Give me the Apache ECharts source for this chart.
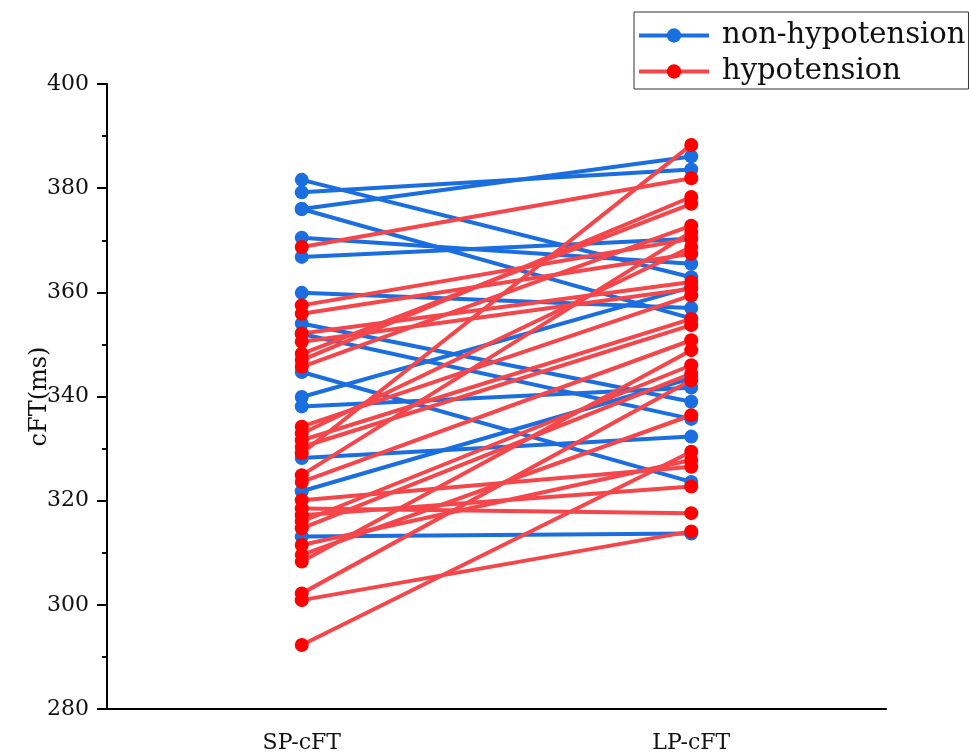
<!DOCTYPE html>
<html>
<head>
<meta charset="utf-8">
<script src="https://cdn.jsdelivr.net/npm/echarts@6/dist/echarts.min.js"></script>
<style>
html, body { margin: 0; padding: 0; background: #fff; }
#chart { width: 969px; height: 756px; }
</style>
</head>
<body>
<div id="chart"></div>
<script>
// 分组：x 轴两个时间点
var categories = ['SP-cFT', 'LP-cFT'];

// 非低血压组 (SP -> LP)，按对读取
var nonHypoSP = [381.6, 379.2, 376.0, 376.0, 370.5, 366.8, 359.9, 354.0, 352.0, 344.7, 339.9, 338.1, 328.2, 321.8, 313.1];
var nonHypoLP = [362.9, 383.6, 386.1, 355.0, 365.5, 370.3, 357.0, 339.0, 335.7, 323.6, 361.0, 341.7, 332.3, 343.5, 313.7];

// 低血压组 (SP -> LP)
var hypoSP = [368.7, 357.5, 355.9, 352.1, 350.5, 348.2, 347.0, 345.7, 334.2, 332.9, 331.6, 330.3, 329.1,
    324.9, 323.6, 320.1, 318.5, 317.2, 316.0, 314.7, 311.5, 309.6, 308.3, 302.2, 300.9, 292.3];
var hypoLP = [381.9, 370.3, 367.4, 362.0, 360.7, 377.0, 378.3, 372.8, 359.4, 368.7, 354.9, 353.7, 388.3,
    371.6, 350.8, 326.5, 317.6, 322.7, 346.0, 344.4, 327.8, 336.4, 348.9, 343.1, 314.1, 329.4];

var yTicks = [280, 300, 320, 340, 360, 380, 400];

var blue = '#1a6edf';
var redLine = '#f5464b';
var redDot = '#ff0000';
var fontFamily = 'DejaVu Serif';

var chart = echarts.init(document.getElementById('chart'));

function pairSeries(name, sp, lp, lineColor, dotColor) {
    var list = [];
    for (var i = 0; i < sp.length; i++) {
        list.push({
            name: name,
            type: 'line',
            data: [sp[i], lp[i]],
            symbol: 'circle',
            symbolSize: 14,
            lineStyle: { color: lineColor, width: 4 },
            itemStyle: { color: dotColor },
            emphasis: { disabled: true },
            animation: false
        });
    }
    return list;
}

var series = pairSeries('non-hypotension', nonHypoSP, nonHypoLP, blue, blue)
    .concat(pairSeries('hypotension', hypoSP, hypoLP, redLine, redDot));

chart.setOption({
    backgroundColor: '#fff',
    grid: { left: 107, right: 83, top: 84, bottom: 47 },
    legend: {
        data: ['non-hypotension', 'hypotension'],
        orient: 'vertical',
        left: 634,
        top: 12,
        itemWidth: 70,
        itemHeight: 18,
        itemGap: 7,
        padding: [9, 3, 3, 3],
        borderColor: '#333',
        borderWidth: 1,
        lineStyle: { width: 4 },
        textStyle: { fontFamily: fontFamily, fontSize: 29, color: '#111', padding: [0, 0, 0, 8] }
    },
    xAxis: {
        type: 'category',
        data: categories,
        boundaryGap: true,
        axisLine: { lineStyle: { color: '#000', width: 2 } },
        axisTick: { alignWithLabel: true, length: 9, lineStyle: { width: 2 } },
        axisLabel: { fontFamily: fontFamily, fontSize: 22, color: '#111', margin: 23 }
    },
    yAxis: {
        type: 'value',
        min: yTicks[0],
        max: yTicks[yTicks.length - 1],
        interval: 20,
        name: 'cFT(ms)',
        nameLocation: 'middle',
        nameGap: 55,
        nameMoveOverlap: false,
        nameTextStyle: { fontFamily: fontFamily, fontSize: 24, color: '#111' },
        axisLine: { show: true, lineStyle: { color: '#000', width: 2 } },
        axisTick: { show: true, length: 10, lineStyle: { width: 2 } },
        minorTick: { show: true, splitNumber: 2, length: 5, lineStyle: { color: '#000', width: 2 } },
        splitLine: { show: false },
        axisLabel: { fontFamily: fontFamily, fontSize: 22, color: '#111', margin: 18 }
    },
    series: series
});
</script>
</body>
</html>
